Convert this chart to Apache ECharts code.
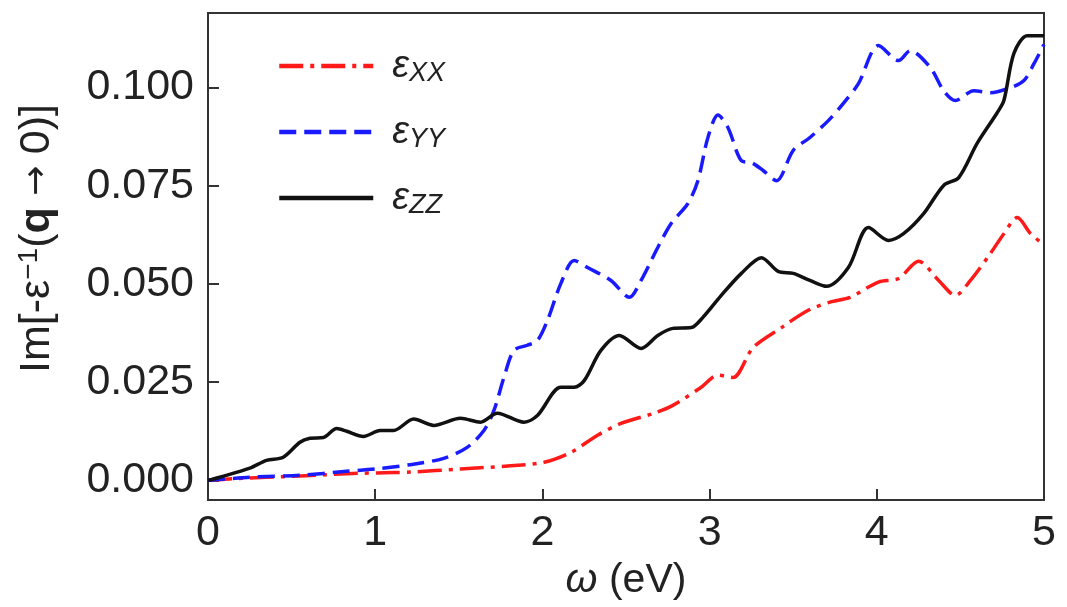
<!DOCTYPE html>
<html>
<head>
<meta charset="utf-8">
<script src="https://cdn.jsdelivr.net/npm/echarts@6/dist/echarts.min.js"></script>
<style>html,body{margin:0;padding:0;background:#fff;}#c{width:1067px;height:607px;}</style>
</head>
<body>
<div id="c"></div>
<script>
// ---- Data ----
var xxOmega = [0, 0.15, 0.35, 0.55, 0.83, 1.11, 1.21, 1.51, 1.81, 2.01, 2.17, 2.33, 2.47, 2.66, 2.78, 2.95, 3.05, 3.14, 3.26, 3.43, 3.59, 3.73, 3.84, 4.01, 4.13, 4.25, 4.37, 4.47, 4.56, 4.68, 4.76, 4.84, 4.92, 5.0];
var xxValue = [0, 0.0004, 0.0008, 0.0011, 0.0017, 0.0020, 0.0021, 0.0029, 0.0037, 0.0046, 0.0071, 0.0115, 0.0145, 0.0170, 0.0191, 0.0237, 0.0268, 0.0262, 0.0338, 0.0389, 0.0433, 0.0455, 0.0466, 0.0505, 0.0514, 0.0558, 0.0509, 0.0471, 0.0509, 0.0578, 0.0628, 0.0669, 0.0628, 0.0600];

var yyOmega = [0, 0.25, 0.55, 0.83, 1.03, 1.21, 1.41, 1.55, 1.65, 1.71, 1.77, 1.83, 1.91, 1.97, 2.03, 2.11, 2.19, 2.27, 2.41, 2.52, 2.59, 2.69, 2.77, 2.87, 2.93, 2.99, 3.05, 3.11, 3.19, 3.25, 3.32, 3.40, 3.50, 3.60, 3.71, 3.80, 3.89, 4.01, 4.13, 4.20, 4.32, 4.40, 4.47, 4.58, 4.68, 4.80, 4.88, 4.94, 5.0];
var yyValue = [0, 0.0008, 0.0013, 0.0023, 0.0030, 0.0040, 0.0056, 0.0084, 0.0127, 0.0178, 0.0262, 0.0331, 0.0344, 0.0356, 0.0407, 0.0501, 0.0560, 0.0542, 0.0509, 0.0466, 0.0509, 0.0593, 0.0654, 0.0705, 0.0763, 0.0873, 0.0930, 0.0898, 0.0814, 0.0809, 0.0789, 0.0763, 0.0840, 0.0873, 0.0916, 0.0960, 0.1010, 0.1107, 0.1069, 0.1094, 0.1051, 0.0992, 0.0967, 0.0992, 0.0987, 0.1000, 0.1018, 0.1061, 0.1110];

var zzOmega = [0, 0.07, 0.25, 0.35, 0.45, 0.55, 0.61, 0.69, 0.77, 0.83, 0.93, 1.03, 1.11, 1.23, 1.35, 1.51, 1.63, 1.73, 1.89, 1.97, 2.11, 2.19, 2.25, 2.35, 2.46, 2.59, 2.69, 2.78, 2.89, 2.96, 3.07, 3.19, 3.31, 3.41, 3.50, 3.60, 3.70, 3.83, 3.95, 4.07, 4.16, 4.28, 4.40, 4.49, 4.60, 4.72, 4.76, 4.82, 4.90, 5.0];
var zzValue = [0, 0.0008, 0.0031, 0.0051, 0.0059, 0.0097, 0.0107, 0.0109, 0.0132, 0.0125, 0.0112, 0.0127, 0.0127, 0.0156, 0.0140, 0.0158, 0.0148, 0.0171, 0.0148, 0.0165, 0.0237, 0.0237, 0.0254, 0.0331, 0.0369, 0.0336, 0.0369, 0.0387, 0.0389, 0.0415, 0.0471, 0.0527, 0.0567, 0.0532, 0.0527, 0.0509, 0.0494, 0.0542, 0.0644, 0.0611, 0.0628, 0.0679, 0.0751, 0.0771, 0.0858, 0.0936, 0.0967, 0.1087, 0.1132, 0.1132];

var xTicks = [0, 1, 2, 3, 4, 5];
var yTicks = [0, 0.025, 0.05, 0.075, 0.1];

function pairs(xs, ys) { return xs.map(function (x, i) { return [x, ys[i]]; }); }

var FONT = '"Liberation Sans", Arial, Helvetica, sans-serif';
var chart = echarts.init(document.getElementById('c'));

var legendRich = {
  e: { fontSize: 38, fontFamily: FONT, color: '#222', fontStyle: 'italic' },
  s: { fontSize: 27, fontFamily: FONT, color: '#222', fontStyle: 'italic', padding: [15, 0, 0, 0] }
};
var yNameRich = {
  t: { fontSize: 43, fontFamily: FONT, color: '#222' },
  sup: { fontSize: 28, fontFamily: FONT, color: '#222', padding: [0, 0, 17, 0] },
  q: { fontSize: 43, fontWeight: 'bold', fontFamily: FONT, color: '#222' },
  a: { fontSize: 36, fontFamily: '"DejaVu Sans", sans-serif', color: '#222' }
};

chart.setOption({
  animation: false,
  backgroundColor: '#fff',
  grid: { left: 208, right: 23, top: 13, bottom: 107, show: true, borderColor: '#333', borderWidth: 2, backgroundColor: 'transparent' },
  legend: {
    orient: 'vertical',
    left: 272,
    top: 42,
    itemWidth: 94,
    itemHeight: 14,
    itemGap: 26,
    data: ['XX', 'YY', 'ZZ'],
    itemStyle: { opacity: 0 },
    lineStyle: { width: 4.5 },
    formatter: function (n) { return '{e|ε}{s|' + n + '}'; },
    textStyle: { rich: legendRich, padding: [0, 0, 0, 14] }
  },
  xAxis: {
    type: 'value', min: 0, max: 5, interval: 1,
    name: '{w|ω} (eV)', nameLocation: 'middle', nameGap: 58,
    nameTextStyle: { fontSize: 41, fontFamily: FONT, color: '#222', rich: { w: { fontSize: 41, fontStyle: 'italic', fontFamily: FONT, color: '#222' } } },
    axisLine: { onZero: false, lineStyle: { color: '#333', width: 2 } },
    axisTick: { inside: true, length: 11, lineStyle: { color: '#333', width: 2 }, customValues: xTicks },
    axisLabel: { fontSize: 43, fontFamily: FONT, color: '#222', margin: 12, customValues: xTicks },
    splitLine: { show: false }
  },
  yAxis: {
    type: 'value', min: -0.005, max: 0.119,
    name: '{t|Im[-ε}{sup|−1}{t|(}{q|q}{a| → }{t|0)]}', nameLocation: 'middle', nameGap: 148, nameRotate: 90,
    nameTextStyle: { fontSize: 43, fontFamily: FONT, color: '#222', rich: yNameRich, padding: [0, 0, 0, 36] },
    axisLine: { onZero: false, lineStyle: { color: '#333', width: 2 } },
    axisTick: { inside: true, length: 11, lineStyle: { color: '#333', width: 2 }, customValues: yTicks },
    axisLabel: { fontSize: 43, fontFamily: FONT, color: '#222', margin: 14, customValues: yTicks,
      formatter: function (v) { return v.toFixed(3); } },
    splitLine: { show: false }
  },
  series: [
    { name: 'XX', type: 'line', data: pairs(xxOmega, xxValue), smooth: 0.3, showSymbol: false, symbol: 'none',
      lineStyle: { color: '#ff1a1a', width: 3.5, type: [24, 7, 4, 7] }, itemStyle: { color: '#ff1a1a' } },
    { name: 'YY', type: 'line', data: pairs(yyOmega, yyValue), smooth: 0.3, showSymbol: false, symbol: 'none',
      lineStyle: { color: '#1a1aff', width: 3.5, type: [17, 8] }, itemStyle: { color: '#1a1aff' } },
    { name: 'ZZ', type: 'line', data: pairs(zzOmega, zzValue), smooth: 0.3, showSymbol: false, symbol: 'none',
      lineStyle: { color: '#111', width: 3.5, type: 'solid' }, itemStyle: { color: '#111' } }
  ]
});
</script>
</body>
</html>
